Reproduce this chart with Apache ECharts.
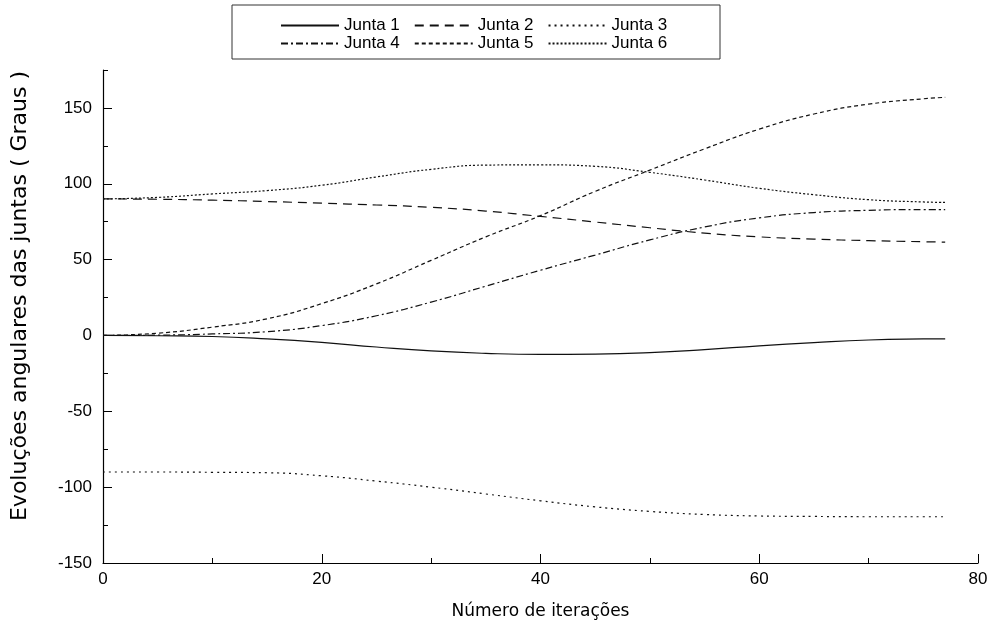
<!DOCTYPE html>
<html>
<head>
<meta charset="utf-8">
<script src="https://cdn.jsdelivr.net/npm/echarts@6/dist/echarts.min.js"></script>
<style>html,body{margin:0;padding:0;background:#fff}#c{width:996px;height:634px}</style>
</head>
<body>
<div id="c"></div>
<script>
const iteracoes = [0,5,10,15,20,25,30,35,40,45,50,55,60,65,70,75,77];
const junta1 = [0,-0.2,-0.7,-2.3,-4.6,-7.6,-10.2,-11.8,-12.5,-12.3,-11.3,-9.3,-6.8,-4.7,-3.0,-2.3,-2.2];
const junta2 = [90,89.8,89.2,88.3,87.2,86,84.5,82,78.5,74.8,71,67.5,65,63.5,62.5,61.8,61.5];
const junta3 = [-90,-90,-90.2,-90.5,-92.5,-96,-100,-104.5,-109,-113,-116,-118,-119,-119.3,-119.5,-119.5,-119.5];
const junta4 = [0,0.2,1,2.5,6.5,13,22,32.5,43,53,63,71.5,77.5,81,82.5,83,83];
const junta5 = [0,1.5,5.5,11,21,34,49.5,65,79,95,109,123,136,146,152.5,156,157];
const junta6 = [90,91,93.3,95.5,99,104.5,109.5,112.3,112.5,111.5,107.5,102.5,97,92.8,89.5,88,87.7];
const nomes = ['Junta 1','Junta 2','Junta 3','Junta 4','Junta 5','Junta 6'];
const yLabels = [-150,-100,-50,0,50,100,150];
const xLabels = [0,20,40,60,80];

const valores = [junta1,junta2,junta3,junta4,junta5,junta6];
const dashes = ['solid',[9,6],[2,4],[7,3,2,3],[4,3],[2,2]];
const pair = arr => iteracoes.map((x,i)=>[x,arr[i]]);

const labelFont = {color:'#000', fontSize:17, fontFamily:'Liberation Sans'};
const legendBase = {left:280,itemWidth:58,itemHeight:14,itemGap:14,padding:0,
  itemStyle:{opacity:0},
  textStyle:{fontSize:17,fontFamily:'Liberation Sans',color:'#000'}};
const chart = echarts.init(document.getElementById('c'));
chart.setOption({
  backgroundColor:'#fff',
  animation:false,
  grid:{left:103,right:18,top:70,bottom:71,containLabel:false},
  legend:[
    Object.assign({data:nomes.slice(0,3),top:17},legendBase),
    Object.assign({data:nomes.slice(3),top:35},legendBase)
  ],
  graphic:[
    {type:'rect',shape:{x:232,y:5,width:488,height:54},style:{fill:'none',stroke:'#333',lineWidth:1},silent:true},
    {type:'text',x:20,y:296,rotation:Math.PI/2,
     style:{text:'Evoluções angulares das juntas ( Graus )',align:'center',verticalAlign:'middle',
            font:'22px "DejaVu Sans"',fill:'#000'}}
  ],
  xAxis:[{
    type:'value',min:0,max:80,interval:20,position:'bottom',
    axisLine:{onZero:false,lineStyle:{color:'#000',width:1.2}},
    axisTick:{inside:true,length:9,lineStyle:{color:'#000'}},
    minorTick:{show:true,splitNumber:2,length:5,lineStyle:{color:'#000'}},
    splitLine:{show:false},
    axisLabel:Object.assign({margin:8,customValues:xLabels},labelFont),
    name:'Número de iterações',nameLocation:'middle',nameGap:40,
    nameTextStyle:{fontSize:17,fontFamily:'DejaVu Sans',color:'#000'}
  }],
  yAxis:[{
    type:'value',min:-150,max:175,interval:25,position:'left',
    axisLine:{onZero:false,lineStyle:{color:'#000',width:1.2}},
    axisTick:{inside:true,length:5,lineStyle:{color:'#000'}},
    splitLine:{show:false},
    axisLabel:Object.assign({margin:11,customValues:yLabels},labelFont)
  },{
    type:'value',min:-150,max:175,interval:25,position:'left',
    axisLine:{show:false},
    axisTick:{inside:true,length:9,customValues:yLabels,lineStyle:{color:'#000'}},
    splitLine:{show:false},
    axisLabel:{show:false}
  }],
  series:nomes.map((n,i)=>({
    name:n,type:'line',smooth:true,symbol:'none',yAxisIndex:0,
    data:pair(valores[i]),
    lineStyle:{color:'#111',width:1.2,type:dashes[i]},
    itemStyle:{color:'#111'}
  }))
});
</script>
</body>
</html>
